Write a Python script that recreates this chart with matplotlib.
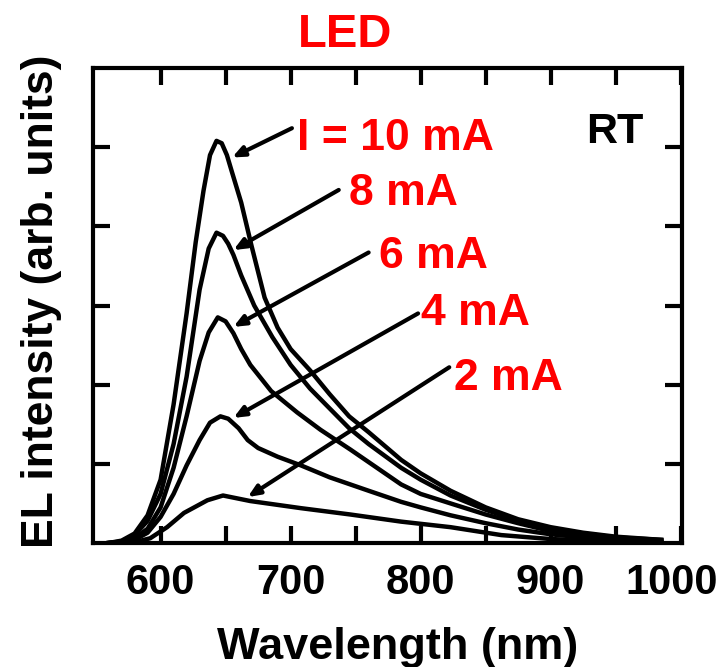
import numpy as np
import matplotlib
matplotlib.use('Agg')
import matplotlib.pyplot as plt
from matplotlib.transforms import ScaledTranslation

plt.rcParams['font.family'] = ['Liberation Sans', 'DejaVu Sans']
plt.rcParams['font.weight'] = 'bold'

# EL spectra (wavelength nm, intensity arb. units)
wl_10 = [560, 570, 580, 590, 600, 610, 620, 627, 633, 638, 643, 647, 651, 655, 662, 670, 680,
         690, 700, 715, 730, 745, 760, 785, 800, 823, 850, 875, 900, 925, 950, 985]
el_10 = [0.0, 0.03, 0.12, 0.35, 0.8, 1.75, 2.9, 3.8, 4.45, 4.9, 5.08, 5.05, 4.9, 4.68, 4.3, 3.75, 3.1,
         2.72, 2.45, 2.18, 1.88, 1.6, 1.4, 1.05, 0.88, 0.66, 0.45, 0.3, 0.2, 0.13, 0.08, 0.04]

wl_8 = [560, 570, 580, 590, 600, 610, 620, 630, 637, 643, 648, 652, 656, 662, 672, 686, 700,
        715, 730, 745, 760, 785, 800, 823, 850, 875, 900, 925, 950, 985]
el_8 = [0.0, 0.02, 0.1, 0.28, 0.62, 1.25, 2.1, 3.2, 3.72, 3.92, 3.88, 3.78, 3.64, 3.38, 3.0, 2.6, 2.25,
        1.95, 1.7, 1.45, 1.25, 0.95, 0.8, 0.6, 0.42, 0.28, 0.18, 0.12, 0.07, 0.04]

wl_6 = [560, 570, 580, 590, 600, 610, 620, 630, 637, 644, 650, 656, 662, 669, 685, 705, 723,
        746, 785, 800, 823, 850, 875, 900, 925, 950, 985]
el_6 = [0.0, 0.01, 0.06, 0.18, 0.45, 0.95, 1.6, 2.3, 2.66, 2.85, 2.8, 2.65, 2.45, 2.25, 1.92, 1.65, 1.43,
        1.18, 0.74, 0.62, 0.5, 0.36, 0.25, 0.15, 0.1, 0.06, 0.03]

wl_4 = [560, 570, 580, 590, 600, 610, 620, 630, 638, 646, 652, 660, 667, 675, 690, 708, 730,
        760, 785, 800, 823, 850, 875, 900, 925, 950, 985]
el_4 = [0.0, 0.01, 0.04, 0.13, 0.33, 0.62, 0.98, 1.3, 1.52, 1.6, 1.57, 1.45, 1.3, 1.2, 1.09, 0.98, 0.83,
        0.66, 0.52, 0.45, 0.35, 0.25, 0.17, 0.11, 0.07, 0.04, 0.02]

wl_2 = [560, 580, 592, 605, 618, 636, 648, 669, 708, 746, 785, 823, 862, 900, 950, 985]
el_2 = [0.0, 0.01, 0.06, 0.2, 0.38, 0.54, 0.6, 0.53, 0.44, 0.36, 0.27, 0.2, 0.1, 0.05, 0.02, 0.01]

labels = ['I = 10 mA', '8 mA', '6 mA', '4 mA', '2 mA']
text_pos = [(705, 4.96), (745, 4.27), (768, 3.47), (800, 2.75), (826, 1.93)]
arrow_tail = [(701, 5.24), (737, 4.46), (760, 3.67), (798, 2.90), (822, 2.22)]
arrow_tip = [(655, 4.87), (656, 3.70), (656, 2.73), (656, 1.58), (667, 0.58)]

fig = plt.figure(figsize=(7.23, 6.67), dpi=100)
ax = fig.add_axes([0.1286, 0.1859, 0.8147, 0.7121])

for wl, el in [(wl_10, el_10), (wl_8, el_8), (wl_6, el_6), (wl_4, el_4), (wl_2, el_2)]:
    ax.plot(wl, el, color='black', lw=3.2, solid_joinstyle='round')

for lab, tp, tail, tip in zip(labels, text_pos, arrow_tail, arrow_tip):
    ax.text(tp[0], tp[1], lab, color='red', fontsize=32, fontweight='bold',
            ha='left', va='baseline')
    ax.annotate('', xy=tip, xytext=tail,
                arrowprops=dict(arrowstyle='-|>,head_length=0.7,head_width=0.3',
                                color='black', lw=3, shrinkA=0, shrinkB=0))

ax.text(927, 5.05, 'RT', fontsize=31, fontweight='bold', ha='left', va='baseline')
fig.text(345 / 723, 1 - 47 / 667, 'LED', color='red', fontsize=34, fontweight='bold',
         ha='center', va='baseline')

ax.set_xlim(548, 1001)
ax.set_ylim(0, 6)
ax.set_xticks([600, 700, 800, 900, 1000])
ax.set_xticks([650, 750, 850, 950], minor=True)
ax.set_yticks([1, 2, 3, 4, 5])
ax.set_yticklabels([])
ax.tick_params(which='both', direction='in', top=True, right=True,
               length=12, width=3, labelsize=30, pad=14.5)
for s in ax.spines.values():
    s.set_linewidth(3)

# shift the "1000" label left so it stays inside the figure
lab1000 = ax.get_xticklabels()[-1]
lab1000.set_transform(lab1000.get_transform() + ScaledTranslation(-9 / 100, 0, fig.dpi_scale_trans))

ax.set_xlabel('Wavelength (nm)', fontsize=32.5, fontweight='bold')
ax.set_ylabel('EL intensity (arb. units)', fontsize=32, fontweight='bold')
ax.xaxis.set_label_coords(0.518, -0.177)
ax.yaxis.set_label_coords(-0.053, 0.51)

fig.savefig('out.png', dpi=100)
